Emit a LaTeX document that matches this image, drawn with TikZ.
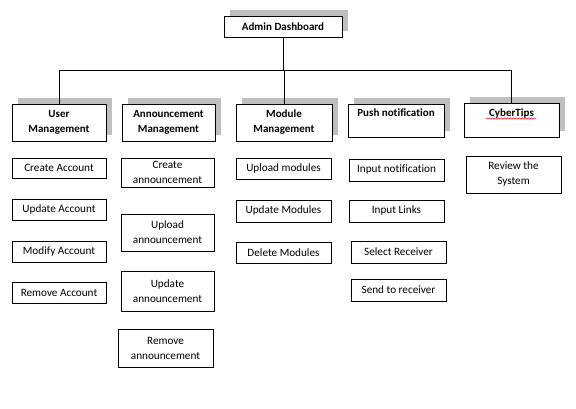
\documentclass[tikz,border=0pt]{standalone}
\usepackage{fontspec}
\setmainfont{Carlito}[Ligatures=NoCommon]
\usetikzlibrary{shadows,decorations.pathmorphing}

\begin{document}
\begin{tikzpicture}[x=1pt,y=-1pt,line width=0.9pt,
    sz/.style 2 args={minimum width=#1pt,minimum height=#2pt},
    task/.style={draw,fill=white,align=center,inner sep=0pt,font=\fontsize{11.2}{15}\selectfont},
    head/.style={task,font=\bfseries\fontsize{11}{15}\selectfont,
      drop shadow={shadow xshift=6pt,shadow yshift=6pt,fill=black!25,opacity=1}}]
          \useasboundingbox (0,0) rectangle (576,409);

          \node[head,sz={118}{21}] (admin) at (283,26.5) {Admin Dashboard};

          \node[head,sz={94}{37}] (userm) at (59,122.5) {User\\Management};
          \node[head,sz={93}{37}] (annm) at (168.5,122.5) {Announcement\\Management};
          \node[head,sz={96}{37}] (modm) at (284,122.5) {Module\\Management};
          \node[head,sz={96}{33}] (pushm) at (396,120.5) {Push notification\\\mbox{}};
          \node[head,sz={95}{34}] (cyber) at (511.5,120) {CyberTips\\\mbox{}};

          \coordinate (bus) at (283,70);
          \draw (admin.south) -- (admin.south |- bus);
          \draw (userm.north |- bus) -- (cyber.north |- bus);
          \draw (userm.north |- bus) -- (userm.north);
          \draw (modm.north |- bus) -- (modm.north);
          \draw (cyber.north |- bus) -- (cyber.north);

          \draw[red,line width=0.5pt,decorate,decoration={snake,amplitude=0.7pt,segment length=3pt}]
            ([xshift=-26pt,yshift=-16pt]cyber.north) -- ++(50,0);

          \node[task,sz={94}{20}] (ua1) at (59,168) {Create Account};
          \node[task,sz={94}{21}] (ua2) at (59,209.5) {Update Account};
          \node[task,sz={94}{21}] (ua3) at (59,251.5) {Modify Account};
          \node[task,sz={94}{21}] (ua4) at (59,292.5) {Remove Account};

          \node[task,sz={93}{29}] (an1) at (167.5,172.5) {Create\\announcement};
          \node[task,sz={93}{37}] (an2) at (167.5,232.5) {Upload\\announcement};
          \node[task,sz={93}{40}] (an3) at (167.5,291) {Update\\announcement};
          \node[task,sz={95}{38}] (an4) at (165.5,348) {Remove\\announcement};

          \node[task,sz={95}{21}] (mo1) at (283.5,168.5) {Upload modules};
          \node[task,sz={95}{22}] (mo2) at (283.5,211) {Update Modules};
          \node[task,sz={95}{21}] (mo3) at (283.5,252.5) {Delete Modules};

          \node[task,sz={95}{22}] (pn1) at (396.5,170) {Input notification};
          \node[task,sz={95}{22}] (pn2) at (396.5,211) {Input Links};
          \node[task,sz={95}{22}] (pn3) at (398.5,252) {Select Receiver};
          \node[task,sz={95}{22}] (pn4) at (398.5,290) {Send to receiver};

          \node[task,sz={95}{37}] (ct1) at (513.5,174.5) {Review the\\System};
        \end{tikzpicture}
\end{document}
